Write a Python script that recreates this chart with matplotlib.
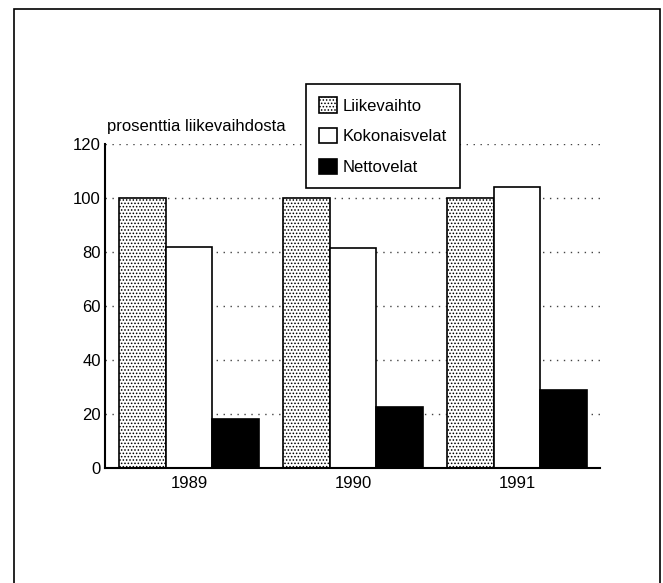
import numpy as np
import matplotlib.pyplot as plt
from matplotlib.patches import Rectangle

plt.rcParams['font.family'] = ['Liberation Sans', 'DejaVu Sans']
plt.rcParams['hatch.linewidth'] = 0.7

# data
years = ['1989', '1990', '1991']
liikevaihto = [100, 100, 100]
kokonaisvelat = [82, 81.5, 104]
nettovelat = [18, 22.5, 29]
series_names = ['Liikevaihto', 'Kokonaisvelat', 'Nettovelat']
yticks = [0, 20, 40, 60, 80, 100, 120]

W, H = 663, 583
fs = 12
fig = plt.figure(figsize=(W / 100, H / 100), dpi=100)
ax = fig.add_axes([105 / W, 1 - 468 / H, 495 / W, 324 / H])

x = np.arange(len(years))
w = 0.286
ax.bar(x - w, liikevaihto, w, facecolor='white', edgecolor='black', hatch='.....',
       linewidth=1.2, label=series_names[0])
ax.bar(x, kokonaisvelat, w, facecolor='white', edgecolor='black',
       linewidth=1.2, label=series_names[1])
ax.bar(x + w, nettovelat, w, facecolor='black', edgecolor='black',
       linewidth=1.2, label=series_names[2])

ax.set_xlim(-0.512, 2.506)
ax.set_ylim(0, 120)
ax.set_yticks(yticks)
ax.set_xticks(x)
ax.set_xticklabels(years)
ax.tick_params(length=0, labelsize=fs, colors='black')
ax.tick_params(axis='y', pad=3)
ax.tick_params(axis='x', pad=6)

ax.yaxis.grid(True, linestyle=(0, (1, 4)), color='#444444', linewidth=1)
ax.set_axisbelow(True)
for s in ['top', 'right']:
    ax.spines[s].set_visible(False)
for s in ['left', 'bottom']:
    ax.spines[s].set_linewidth(1.5)

fig.text(107 / W, 1 - 127 / H, 'prosenttia liikevaihdosta', fontsize=fs,
         ha='left', va='center')

leg = fig.legend(loc='upper left', bbox_to_anchor=(306 / W, 1 - 84 / H),
                 bbox_transform=fig.transFigure, borderaxespad=0, fontsize=fs,
                 handlelength=1.05, handleheight=1.05, handletextpad=0.35,
                 labelspacing=0.85, borderpad=0.8, fancybox=False,
                 framealpha=1, edgecolor='black')
leg.get_frame().set_linewidth(1.2)

# outer frame
fig.add_artist(Rectangle((14 / W, -0.1), (660 - 14) / W, 1.1 - 9 / H,
                         transform=fig.transFigure, fill=False,
                         edgecolor='black', linewidth=1.2, clip_on=False))

fig.savefig('out.png', dpi=100)
